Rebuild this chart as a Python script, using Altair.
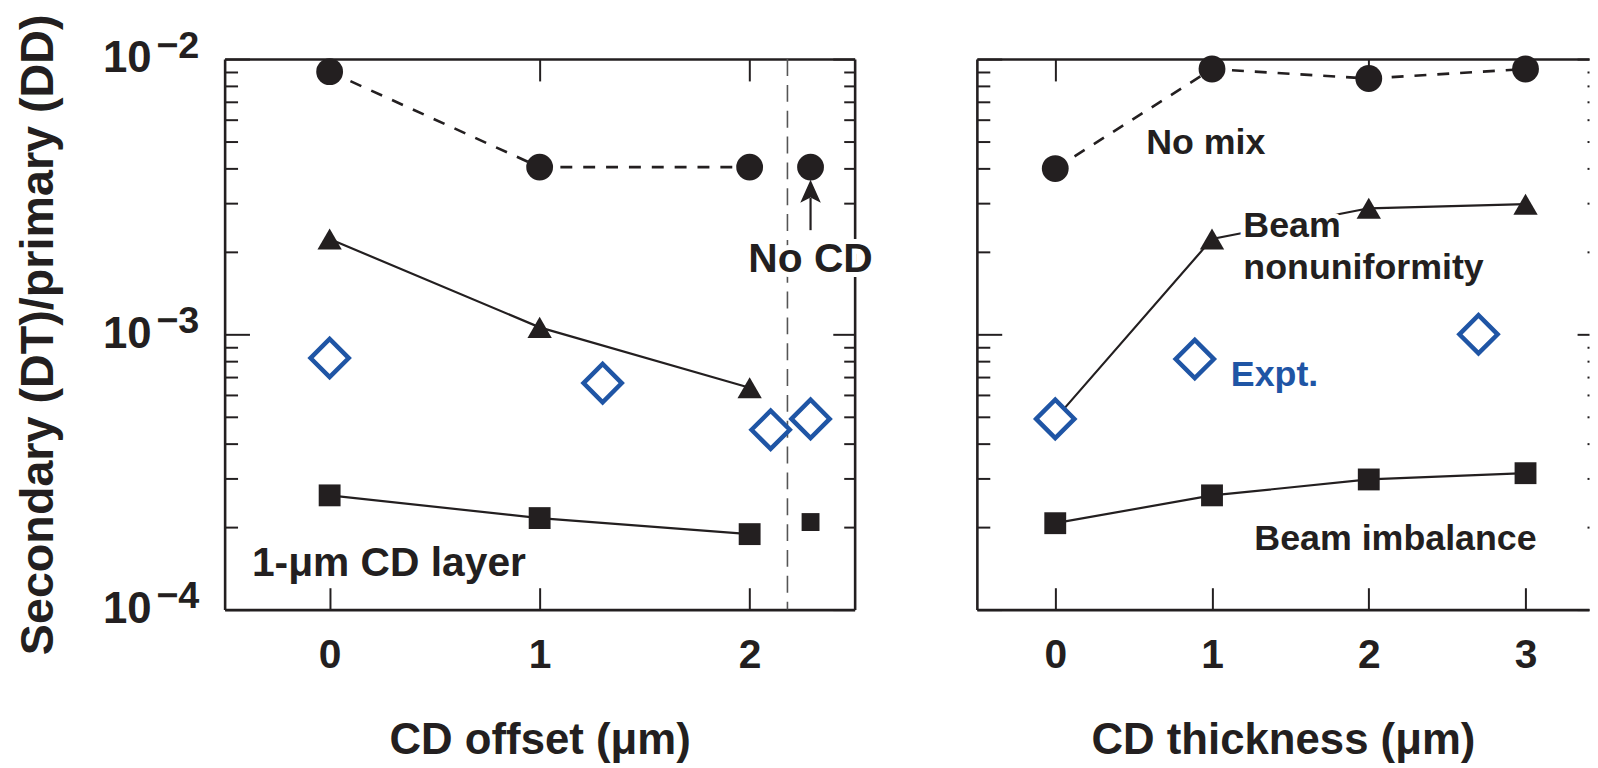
import altair as alt
import pandas as pd

BLACK = "#231f20"
BLUE = "#1f55a5"
GRAY = "#555555"
FONT = "Liberation Sans"

# ---------------- Left panel: CD offset ----------------
offset_x = [0, 1, 2]
offset_nomix = [9.0e-3, 4.05e-3, 4.05e-3]
offset_nonuni = [2.22e-3, 1.06e-3, 6.4e-4]
offset_imbal = [2.6e-4, 2.15e-4, 1.88e-4]
nocd_x = [2.29]
nocd_nomix = [4.05e-3]
nocd_imbal = [2.08e-4]
offset_expt_x = [0, 1.3, 2.1, 2.29]
offset_expt = [8.2e-4, 6.65e-4, 4.5e-4, 4.93e-4]
nocd_boundary_x = [2.18]

# ---------------- Right panel: CD thickness ----------------
thick_x = [0, 1, 2, 3]
thick_nomix = [4.0e-3, 9.2e-3, 8.5e-3, 9.2e-3]
thick_nonuni_line = [4.93e-4, 2.22e-3, 2.87e-3, 2.97e-3]
thick_nonuni_pts_x = [1, 2, 3]
thick_nonuni_pts = [2.22e-3, 2.87e-3, 2.97e-3]
thick_imbal = [2.06e-4, 2.6e-4, 2.97e-4, 3.13e-4]
thick_expt_x = [0, 0.89, 2.7]
thick_expt = [4.93e-4, 8.13e-4, 1.0e-3]

# ---------------- Axis ticks ----------------
y_major = [1e-4, 1e-3, 1e-2]
y_minor = [2e-4, 3e-4, 4e-4, 5e-4, 6e-4, 7e-4, 8e-4, 9e-4,
           2e-3, 3e-3, 4e-3, 5e-3, 6e-3, 7e-3, 8e-3, 9e-3]
offset_ticks = [0, 1, 2]
thick_ticks = [0, 1, 2, 3]
offset_domain = [-0.5, 2.5]
thick_domain = [-0.5, 3.405]   # panel is cut off by the picture's right edge
y_domain = [1e-4, 1e-2]

# ---------------- Annotations ----------------
left_label_text = ["1-μm CD layer"]
left_label_x = [-0.37]
left_label_y = [1.46e-4]
nocd_text = ["No CD"]
nocd_text_y = [1.86e-3]
arrow_y = [2.39e-3]
arrow_y2 = [3.13e-3]
arrow_head_y = [3.31e-3]

right_label_text = ["No mix", "Beam", "nonuniformity", "Beam imbalance"]
right_label_x = [0.58, 1.2, 1.2, 1.27]
right_label_y = [4.95e-3, 2.47e-3, 1.74e-3, 1.8e-4]
expt_text = ["Expt."]
expt_text_x = [1.12]
expt_text_y = [7.1e-4]

anchor = pd.DataFrame({"x": [0.0], "y": [1e-3]})


def xs(dom):
    return alt.Scale(domain=dom, nice=False, zero=False)


def ys():
    return alt.Scale(type="log", domain=y_domain, nice=False)


def enc(chart, xdom, extra=None):
    kw = dict(
        x=alt.X("x:Q", scale=xs(xdom), axis=None),
        y=alt.Y("y:Q", scale=ys(), axis=None),
    )
    if extra:
        kw.update(extra)
    return chart.encode(**kw)


common = dict(grid=False, tickColor=BLACK, tickWidth=2,
              labelColor=BLACK, labelFont=FONT, labelFontWeight="bold",
              titleFont=FONT, titleFontWeight="bold", titleColor=BLACK,
              labelOverlap=False, labelFlush=False)


def frame_axis(orient):
    return alt.Axis(orient=orient, domain=True, domainColor=BLACK, domainWidth=2.6,
                    ticks=False, tickSize=0, labels=False, title=None, grid=False)


def axis_layers(xdom, xticks, xtitle, ylabels, full_right):
    def carrier(xaxis, yaxis):
        return alt.Chart(anchor).mark_point(opacity=0).encode(
            x=alt.X("x:Q", scale=xs(xdom), axis=xaxis),
            y=alt.Y("y:Q", scale=ys(), axis=yaxis),
        )
    xb = alt.Axis(orient="bottom", values=xticks, format="d", tickSize=22, offset=-22,
                  domain=False, labelFontSize=41, labelPadding=26, title=xtitle,
                  titleFontSize=44, titlePadding=44, **common)
    xt = alt.Axis(orient="top", values=xticks, tickSize=22, offset=-22, domain=False,
                  labels=False, title=None, **common)
    if ylabels:
        yl = alt.Axis(orient="left", values=y_major, tickSize=25, offset=-25, domain=False,
                      labelExpr="'10'", labelFontSize=44, labelPadding=74,
                      title="Secondary (DT)/primary (DD)", titleFontSize=47,
                      titlePadding=40, **common)
    else:
        yl = alt.Axis(orient="left", values=y_major, tickSize=25, offset=-25, domain=False,
                      labels=False, title=None, **common)
    ylm = alt.Axis(orient="left", values=y_minor, tickSize=13, offset=-13, domain=False,
                   labels=False, title=None, **common)
    if full_right:
        yr = alt.Axis(orient="right", values=y_major, tickSize=22, offset=-22, domain=False,
                      labels=False, title=None, **common)
        yrm = alt.Axis(orient="right", values=y_minor, tickSize=11, offset=-11, domain=False,
                       labels=False, title=None, **common)
    else:
        yr = alt.Axis(orient="right", values=y_major, tickSize=12, offset=-12, domain=False,
                      labels=False, title=None, **common)
        yrm = alt.Axis(orient="right", values=y_minor, tickSize=2, offset=-2, domain=False,
                       labels=False, title=None, **common)
    layers = [carrier(xb, yl), carrier(xt, ylm), carrier(None, yr), carrier(None, yrm),
              carrier(frame_axis("bottom"), frame_axis("left"))]
    if full_right:
        layers.append(carrier(frame_axis("top"), frame_axis("right")))
    else:
        layers.append(carrier(frame_axis("top"), None))
    if ylabels:
        yexp = alt.Axis(orient="left", values=y_major, ticks=False, tickSize=0, domain=False,
                        labelExpr="datum.value < 0.0005 ? '\u22124' : (datum.value < 0.005 ? '\u22123' : '\u22122')",
                        labelFontSize=38, labelPadding=26, labelOffset=-13,
                        title=None, **common)
        layers.append(carrier(None, yexp))
    return layers


def line(xv, yv, xdom, dash=None, width=2.2):
    props = dict(color=BLACK, strokeWidth=width)
    if dash:
        props["strokeDash"] = dash
    return enc(alt.Chart(pd.DataFrame({"x": xv, "y": yv})).mark_line(**props), xdom)


def pts(xv, yv, xdom, shape, size, fill=BLACK, stroke=None, sw=0):
    props = dict(shape=shape, size=size, fill=fill, filled=True, opacity=1,
                 fillOpacity=1)
    if stroke:
        props.update(stroke=stroke, strokeWidth=sw, strokeOpacity=1)
    return enc(alt.Chart(pd.DataFrame({"x": xv, "y": yv})).mark_point(**props), xdom)


def text(tv, xv, yv, xdom, size, color=BLACK, align="left", halo=False):
    d = pd.DataFrame({"x": xv, "y": yv, "t": tv})
    props = dict(font=FONT, fontWeight="bold", fontSize=size, align=align,
                 baseline="middle")
    out = []
    if halo:
        out.append(enc(alt.Chart(d).mark_text(color="white", stroke="white",
                                              strokeWidth=10, **props), xdom,
                       {"text": "t:N"}))
    out.append(enc(alt.Chart(d).mark_text(color=color, **props), xdom, {"text": "t:N"}))
    return out


# ---------------- Left panel ----------------
L = offset_domain
left_layers = axis_layers(L, offset_ticks, "CD offset (μm)", True, True) + [
    alt.Chart(pd.DataFrame({"x": nocd_boundary_x})).mark_rule(
        color=GRAY, strokeWidth=1.6, strokeDash=[17, 9]).encode(
        x=alt.X("x:Q", scale=xs(L), axis=None)),
    line(offset_x, offset_nomix, L, dash=[12, 11], width=2.6),
    line(offset_x, offset_nonuni, L),
    line(offset_x, offset_imbal, L),
    pts(offset_x, offset_nomix, L, "circle", 729),
    pts(nocd_x, nocd_nomix, L, "circle", 729),
    pts(offset_x, offset_nonuni, L, "triangle-up", 600),
    pts(offset_x, offset_imbal, L, "square", 484),
    pts(nocd_x, nocd_imbal, L, "square", 324),
    pts(offset_expt_x, offset_expt, L, "diamond", 1480, fill="white", stroke=BLUE, sw=4.5),
    enc(alt.Chart(pd.DataFrame({"x": nocd_x, "y": arrow_y, "y2": arrow_y2})).mark_rule(
        color=BLACK, strokeWidth=2.2), L, {"y2": "y2:Q"}),
    pts(nocd_x, arrow_head_y, L, "M0,-1L0.9,1L0,0.55L-0.9,1Z", 529),
] + text(left_label_text, left_label_x, left_label_y, L, 41) \
  + text(nocd_text, nocd_x, nocd_text_y, L, 41, align="center", halo=True)

left = alt.layer(*left_layers).resolve_axis(x="independent", y="independent").properties(
    width=634, height=554)

# ---------------- Right panel ----------------
R = thick_domain
right_layers = axis_layers(R, thick_ticks, "CD thickness (μm)", False, False) + [
    line(thick_x, thick_nomix, R, dash=[12, 11], width=2.6),
    line(thick_x, thick_nonuni_line, R),
    line(thick_x, thick_imbal, R),
    pts(thick_x, thick_nomix, R, "circle", 729),
    pts(thick_nonuni_pts_x, thick_nonuni_pts, R, "triangle-up", 600),
    pts(thick_x, thick_imbal, R, "square", 484),
    pts(thick_expt_x, thick_expt, R, "diamond", 1480, fill="white", stroke=BLUE, sw=4.5),
] + text(right_label_text, right_label_x, right_label_y, R, 36, halo=True) \
  + text(expt_text, expt_text_x, expt_text_y, R, 36, color=BLUE)

right = alt.layer(*right_layers).resolve_axis(x="independent", y="independent").properties(
    width=616, height=554)

chart = alt.hconcat(left, right, spacing=123, bounds="flush").properties(
    background="white",
    padding={"left": 7, "top": 3, "right": 0, "bottom": 0},
).configure_view(stroke=None)

chart.save("out.html", embed_options={"renderer": "svg", "actions": False})
